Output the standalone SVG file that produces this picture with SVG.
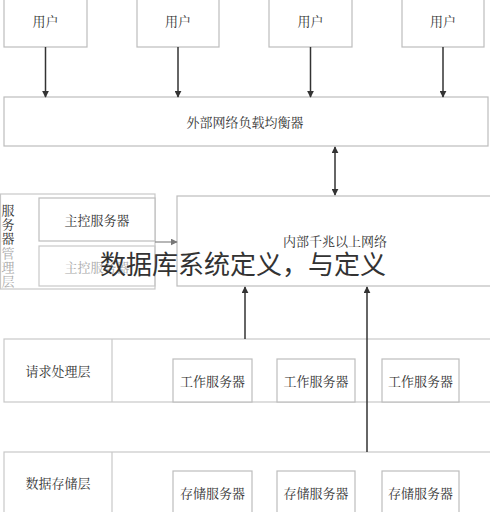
<svg xmlns="http://www.w3.org/2000/svg" width="490" height="512" viewBox="0 0 490 512">
<style>
.box{fill:#fff;stroke:#bdbdbd;stroke-width:1.2}
.lt{fill:none;stroke:#c8c8c8;stroke-width:1.2}
.t{font-family:"Noto Serif CJK SC","Noto Sans CJK SC",sans-serif;font-size:13px;fill:#333;text-anchor:middle;dominant-baseline:central}
.g{fill:#aaa}
.ln{stroke:#333;stroke-width:1.5;fill:none}
</style>
<defs>
<marker id="ah" viewBox="0 0 10 10" refX="9" refY="5" markerWidth="7" markerHeight="7" orient="auto-start-reverse" markerUnits="userSpaceOnUse"><path d="M0,0L10,5L0,10z" fill="#333"/></marker>
<marker id="ahg" viewBox="0 0 10 10" refX="9" refY="5" markerWidth="7" markerHeight="7" orient="auto" markerUnits="userSpaceOnUse"><path d="M0,0L10,5L0,10z" fill="#777"/></marker>
</defs>
<rect width="490" height="512" fill="#fff"/>
<g id="user1"><rect class="box" x="4" y="-2" width="83" height="49"/><text class="t" x="45.5" y="20">用户</text></g>
<g id="user2"><rect class="box" x="137" y="-2" width="82" height="49"/><text class="t" x="178" y="20">用户</text></g>
<g id="user3"><rect class="box" x="269" y="-2" width="83" height="49"/><text class="t" x="310.5" y="20">用户</text></g>
<g id="user4"><rect class="box" x="402" y="-2" width="82" height="49"/><text class="t" x="443" y="20">用户</text></g>
<g id="lb"><rect class="box" x="4" y="97" width="484" height="49"/><text class="t" x="245" y="121" font-size="14">外部网络负载均衡器</text></g>
<g id="mgmt">
<rect class="lt" x="0.5" y="194" width="154.5" height="95"/>
<g class="t" font-size="12">
<text x="8" y="209">服</text><text x="8" y="223">务</text><text x="8" y="237">器</text>
<text x="8" y="252" class="g">管</text><text x="8" y="266" class="g">理</text><text x="8" y="280" class="g">层</text>
</g>
</g>
<g id="master1"><rect class="box" x="39" y="198" width="116" height="43"/><text class="t" x="97" y="219">主控服务器</text></g>
<g id="master2"><rect class="lt" x="39" y="246" width="116" height="40"/><text class="t g" x="97" y="266" fill="#bbb">主控服务器</text></g>
<g id="inner"><rect class="box" x="177" y="196" width="315" height="90"/><text class="t" x="335" y="240" font-size="12" fill="#555">内部千兆以上网络</text></g>
<g id="req">
<rect class="lt" x="4" y="339" width="488" height="63"/>
<line class="lt" x1="112" y1="339" x2="112" y2="402"/>
<text class="t" x="58" y="370" font-size="14">请求处理层</text>
</g>
<g id="work1"><rect class="box" x="173" y="359" width="79" height="43"/><text class="t" x="212.5" y="380" font-size="14">工作服务器</text></g>
<g id="work2"><rect class="box" x="277" y="359" width="78" height="43"/><text class="t" x="316" y="380" font-size="14">工作服务器</text></g>
<g id="work3"><rect class="box" x="382" y="359" width="77" height="43"/><text class="t" x="420.5" y="380" font-size="14">工作服务器</text></g>
<g id="store">
<rect class="lt" x="4" y="452" width="488" height="70"/>
<line class="lt" x1="112" y1="452" x2="112" y2="512"/>
<text class="t" x="58" y="482" font-size="14">数据存储层</text>
</g>
<g id="st1"><rect class="box" x="173" y="471" width="79" height="50"/><text class="t" x="212.5" y="492" font-size="14">存储服务器</text></g>
<g id="st2"><rect class="box" x="277" y="471" width="78" height="50"/><text class="t" x="316" y="492" font-size="14">存储服务器</text></g>
<g id="st3"><rect class="box" x="382" y="471" width="77" height="50"/><text class="t" x="420.5" y="492" font-size="14">存储服务器</text></g>
<g id="connectors">
<line class="ln" x1="45.5" y1="47" x2="45.5" y2="97" marker-end="url(#ah)"/>
<line class="ln" x1="178" y1="47" x2="178" y2="97" marker-end="url(#ah)"/>
<line class="ln" x1="310.5" y1="47" x2="310.5" y2="97" marker-end="url(#ah)"/>
<line class="ln" x1="443" y1="47" x2="443" y2="97" marker-end="url(#ah)"/>
<line class="ln" x1="335" y1="147" x2="335" y2="195" marker-start="url(#ah)" marker-end="url(#ah)"/>
<line x1="155" y1="242" x2="177" y2="242" stroke="#888" stroke-width="1.2" marker-end="url(#ahg)"/>
<line class="ln" x1="245" y1="339" x2="245" y2="287" marker-end="url(#ah)"/>
<line class="ln" x1="367" y1="452" x2="367" y2="287" marker-end="url(#ah)"/>
</g>
<text x="100" y="274" font-family="Noto Sans CJK SC,sans-serif" font-size="26" fill="#333">数据库系统定义，与定义</text>
</svg>
